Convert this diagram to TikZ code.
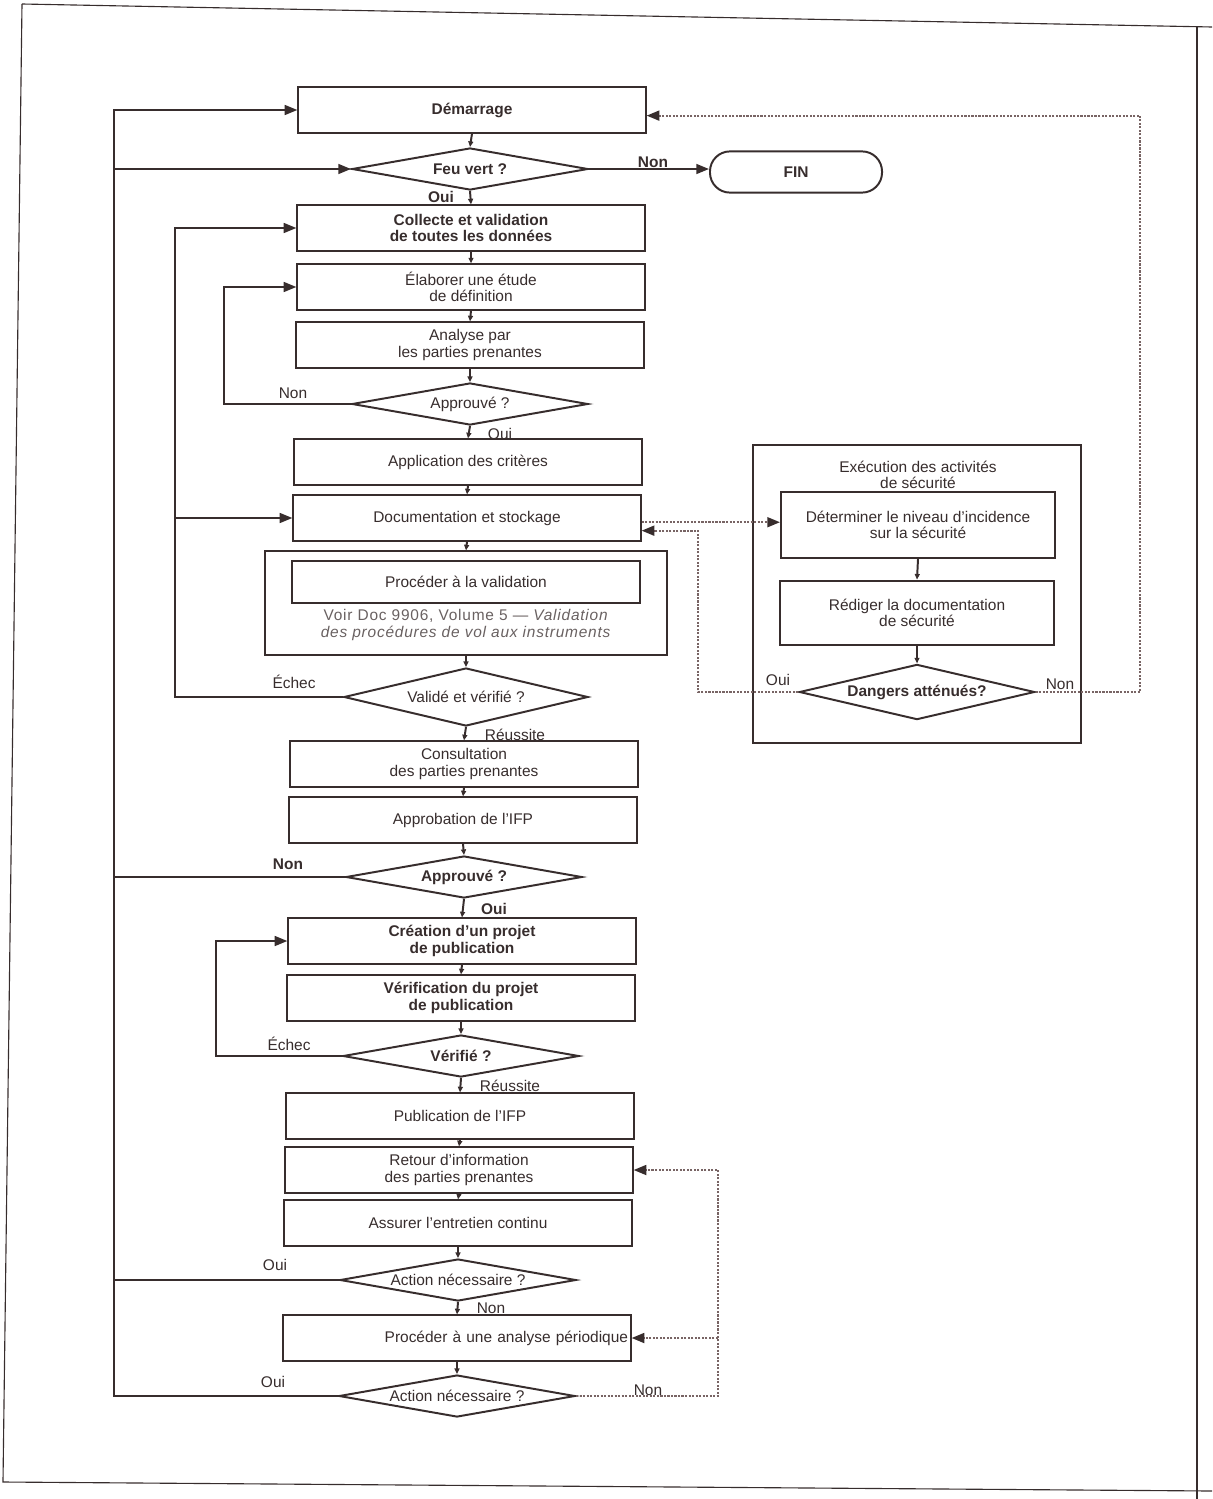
\documentclass[tikz,border=0pt]{standalone}
\usepackage{fontspec}
\setmainfont{Liberation Sans}
\usetikzlibrary{arrows.meta}
\usetikzlibrary{shapes.geometric}

\definecolor{ink}{RGB}{55,45,45}
\definecolor{dots}{RGB}{120,100,100}

\begin{document}
\fontsize{11}{11.5}\selectfont
\begin{tikzpicture}
		[x=0.025cm,y=-0.025cm,color=ink,line width=1.4pt,
		box/.style={draw,rectangle,minimum width=8.68cm,minimum height=1.13cm,align=center,inner sep=1pt},
		dec/.style={draw,diamond,aspect=5.6,minimum width=5.9cm,minimum height=1.05cm,inner sep=1pt,align=center},
		term/.style={draw,rectangle,rounded corners=0.5cm,minimum width=4.3cm,minimum height=1.03cm,font=\bfseries},
		lbl/.style={inner sep=0pt},
		arr/.style={-{Triangle[length=9pt,width=7pt]}},
		dn/.style={-{Triangle[length=4pt,width=3.5pt]}},
		dotarr/.style={color=dots,densely dotted,line width=1.5pt,-{Triangle[length=9pt,width=7pt,color=ink]}}]
		\useasboundingbox (0,0) rectangle (1212,1499);
		% page frame
		\draw[line width=0.8pt] (22,4) -- (1212,27);
		\draw[line width=0.8pt] (22,4) -- (3,1482) -- (1212,1491);
		\draw[line width=0.8pt] (1197,27) -- (1197,1499);
		
		% main column
		\node[box,font=\bfseries] (dem) at (472,110) {Démarrage};
		\node[dec,font=\bfseries] (fv) at (470,169) {Feu vert ?};
		\node[term] (fin) at (796,172) {FIN};
		\node[box,font=\bfseries] (col) at (471,228) {Collecte et validation\\de toutes les données};
		\node[box] (ela) at (471,287) {Élaborer une étude\\de définition};
		\node[box] (ana) at (470,345) {Analyse par\\les parties prenantes};
		\node[dec] (ap1) at (470,404) {Approuvé ?};
		\node[box] (app) at (468,462) {Application des critères};
		\node[box] (doc) at (467,518) {Documentation et stockage};
		\node[box,minimum width=10.03cm,minimum height=2.58cm] (vbox) at (466,603) {};
		\node[box,minimum height=1.05cm] (pva) at (466,582) {Procéder à la validation};
		\node[inner sep=0pt,align=center,text=ink!75,font=\addfontfeature{LetterSpace=5}] (vnote) at (466,625) {Voir Doc 9906, Volume 5 — \textit{Validation}\\\textit{des procédures de vol aux instruments}};
		\node[dec,minimum width=6.1cm,minimum height=1.45cm,aspect=4.2] (val) at (466,697) {Validé et vérifié ?};
		\node[box] (con) at (464,764) {Consultation\\des parties prenantes};
		\node[box] (apf) at (463,820) {Approbation de l'IFP};
		\node[dec,font=\bfseries] (ap2) at (464,877) {Approuvé ?};
		\node[box,font=\bfseries] (cre) at (462,941) {Création d'un projet\\de publication};
		\node[box,font=\bfseries] (ver) at (461,998) {Vérification du projet\\de publication};
		\node[dec,font=\bfseries] (vf) at (461,1056) {Vérifié ?};
		\node[box] (pub) at (460,1116) {Publication de l'IFP};
		\node[box] (ret) at (459,1170) {Retour d'information\\des parties prenantes};
		\node[box] (ass) at (458,1223) {Assurer l'entretien continu};
		\node[dec] (an1) at (458,1280) {Action nécessaire ?};
		\node[box,text width=8.55cm,align=right] (pro) at (457,1338) {Procéder à une analyse périodique};
		\node[dec] (an2) at (457,1396) {Action nécessaire ?};
		
		% safety activities
		\node[draw,minimum width=8.18cm,minimum height=7.45cm] (sec) at (917,594) {};
		\node[inner sep=0pt,align=center] (sect) at (918,475) {Exécution des activités\\de sécurité};
		\node[box,minimum width=6.85cm,minimum height=1.65cm] (det) at (918,525) {Déterminer le niveau d'incidence\\sur la sécurité};
		\node[box,minimum width=6.85cm,minimum height=1.62cm] (red) at (917,613) {Rédiger la documentation\\de sécurité};
		\node[dec,aspect=4.3,minimum width=5.88cm,minimum height=1.38cm,font=\bfseries] (dan) at (917,692) {Dangers atténués?};
		
		% labels
		\node[lbl,font=\bfseries] (l1) at (653,162) {Non};
		\node[lbl,font=\bfseries] (l2) at (441,197) {Oui};
		\node[lbl] (l3) at (293,393) {Non};
		\node[lbl] (l4) at (500,434) {Oui};
		\node[lbl] (l5) at (294,682) {Échec};
		\node[lbl] (l6) at (515,735) {Réussite};
		\node[lbl,font=\bfseries] (l7) at (288,864) {Non};
		\node[lbl,font=\bfseries] (l8) at (494,909) {Oui};
		\node[lbl] (l9) at (289,1044) {Échec};
		\node[lbl] (l10) at (510,1086) {Réussite};
		\node[lbl] (l11) at (275,1265) {Oui};
		\node[lbl] (l12) at (491,1308) {Non};
		\node[lbl] (l13) at (273,1382) {Oui};
		\node[lbl] (l14) at (648,1390) {Non};
		\node[lbl] (l15) at (778,680) {Oui};
		\node[lbl] (l16) at (1060,684) {Non};
		
		\coordinate (xL) at (114,0);
		\coordinate (xB) at (175,0);
		\coordinate (xC) at (216,0);
		\coordinate (xA) at (224,0);
		\coordinate (xO) at (698,0);
		\coordinate (xR) at (718,0);
		\coordinate (xN) at (1140,0);
		
		\foreach \from/\to in 
		{dem/fv, fv/col, col/ela, ela/ana, ana/ap1, ap1/app, app/doc, doc/vbox, vbox/val,
		 val/con, con/apf, apf/ap2, ap2/cre, cre/ver, ver/vf, vf/pub, pub/ret, ret/ass,
		 ass/an1, an1/pro, pro/an2, det/red, red/dan}
		\draw[dn] (\from.south) -- (\to.north);
		
		\draw[arr] (fv.east) -- (fv.east -| fin.west);
		\draw[arr] (ap1.west) -- (xA |- ap1.west) |- (ela.west);
		\draw[arr] (val.west) -- (xB |- val.west) |- (col.west);
		\draw[arr] (xB |- doc.west) -- (doc.west);
		\draw[arr] (vf.west) -- (xC |- vf.west) |- (cre.west);
		\draw[arr] (an2.west) -- (xL |- an2.west) |- (dem.west);
		\draw[arr] (xL |- fv.west) -- (fv.west);
		\draw (ap2.west) -- (xL |- ap2.west);
		\draw (an1.west) -- (xL |- an1.west);
		
		\draw[dotarr] ([yshift=-3pt]doc.east) -- ([yshift=-3pt]doc.east -| det.west);
		\draw[dotarr] (dan.west) -- (xO |- dan.west) |- ([yshift=-9pt]doc.east);
		\draw[dotarr] (dan.east) -- (xN |- dan.east) |- ([yshift=-4pt]dem.east);
		\draw[dotarr] (an2.east) -- (xR |- an2.east) |- (ret.east);
		\draw[dotarr] (xR |- pro.east) -- (pro.east);
		\end{tikzpicture}
\end{document}
